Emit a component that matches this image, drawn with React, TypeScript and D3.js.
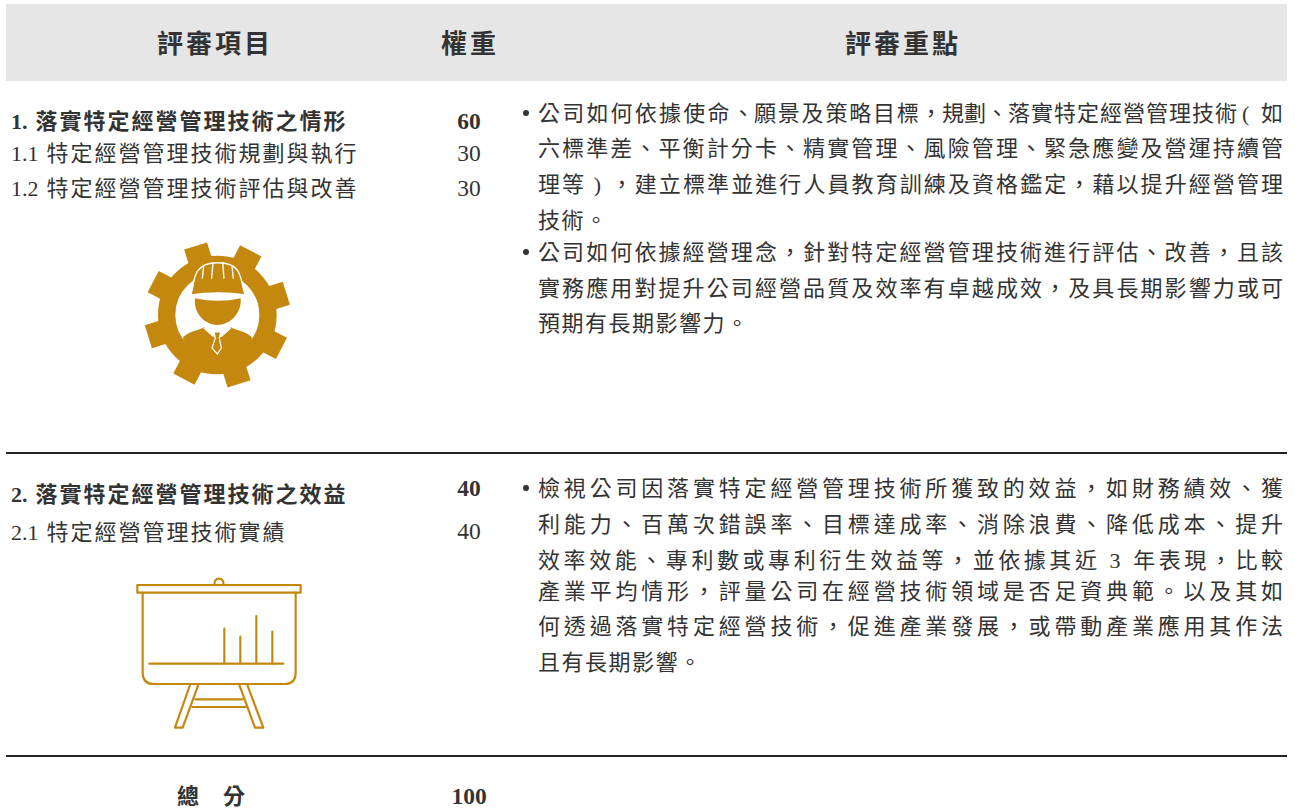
import * as d3 from "d3";

const headers = ["評審項目", "權重", "評審重點"];
const totalLabel = ["總", "分"];
const totalValue = "100";

const section1Items = ["1. 落實特定經營管理技術之情形", "1.1 特定經營管理技術規劃與執行", "1.2 特定經營管理技術評估與改善"];
const section1Weights = [60, 30, 30];
const section2Items = ["2. 落實特定經營管理技術之效益", "2.1 特定經營管理技術實績"];
const section2Weights = [40, 40];

// first line is set tight around its punctuation in the original
const section1FirstLine = ["公司如何依據使命", "、", "願景及策略目標", "，", "規劃", "、", "落實特定經營管理技術", "(", "如"];
const section1Text = [
  "",
  "六標準差、平衡計分卡、精實管理、風險管理、緊急應變及營運持續管",
  "理等 ) ，建立標準並進行人員教育訓練及資格鑑定，藉以提升經營管理",
  "技術。",
  "公司如何依據經營理念，針對特定經營管理技術進行評估、改善，且該",
  "實務應用對提升公司經營品質及效率有卓越成效，及具長期影響力或可",
  "預期有長期影響力。",
];
const section2Text = [
  "檢視公司因落實特定經營管理技術所獲致的效益，如財務績效、獲",
  "利能力、百萬次錯誤率、目標達成率、消除浪費、降低成本、提升",
  "效率效能、專利數或專利衍生效益等，並依據其近 3 年表現，比較",
  "產業平均情形，評量公司在經營技術領域是否足資典範。以及其如",
  "何透過落實特定經營技術，促進產業發展，或帶動產業應用其作法",
  "且有長期影響。",
];
const easelBars = [105, 81, 143, 96];

const GOLD = "#c4880f";
const TEXT = "#333333";
const FONT = '"Liberation Serif", "Noto Sans CJK TC", serif';
const CJK = '"Noto Sans CJK TC", sans-serif';

const WIDTH = 1295;
const HEIGHT = 810;
const TEXT_LEFT = 538;
const TEXT_RIGHT = 1283;

const s1Lines = [113, 148, 184, 220, 252, 288, 323];
const s2Lines = [488, 524, 560, 591, 626, 662];
const s1ItemY = [121, 153, 188];
const s1WeightY = [121, 153, 188];
const s2ItemY = [494, 532];
const s2WeightY = [488, 531];
const firstLineX = [538, 732, 754, 920, 942, 986, 1008, 1242, 1261];
const firstLineSpacing = [2.2, 0, 1.8, 0, 0, 0, 1, 0, 0];

function Paragraphs(props: { lines: string[]; ys: number[]; bullets: number[] }) {
  return (
    <g fill={TEXT} fontFamily={FONT} fontSize={22}>
      {props.lines.map((line, i) => {
        const full = i < props.lines.length - 1 && line.length > 20;
        return (
          <text
            key={i}
            x={TEXT_LEFT}
            y={props.ys[i]}
            dominantBaseline="central"
            textLength={full ? TEXT_RIGHT - TEXT_LEFT : undefined}
            lengthAdjust="spacing"
            letterSpacing={full ? undefined : 1.5}
          >
            {line}
          </text>
        );
      })}
      {props.bullets.map((b) => (
        <circle key={b} cx={526} cy={props.ys[b]} r={3} fill={TEXT} />
      ))}
    </g>
  );
}

// number prefix stays tight, the Chinese part is tracked out
function ItemLabel(props: { text: string; y: number; bold: boolean }) {
  const cut = props.text.indexOf(" ");
  return (
    <text x={11} y={props.y} dominantBaseline="central" fontWeight={props.bold ? 700 : 400}>
      <tspan letterSpacing={0}>{props.text.slice(0, cut + 1)}</tspan>
      <tspan dx={2.5} letterSpacing={2}>{props.text.slice(cut + 1)}</tspan>
    </text>
  );
}

function GearIcon() {
  const cx = 262;
  const cy = 255;
  const teeth = d3.range(8).map((i) => -17.5 + i * 45);
  return (
    <g transform="translate(130,230) scale(0.3333)" fill={GOLD}>
      {teeth.map((a) => (
        <rect key={a} x={cx - 36} y={cy - 217} width={72} height={70} transform={`rotate(${a} ${cx} ${cy})`} />
      ))}
      <circle cx={cx} cy={cy} r={152} fill="none" stroke={GOLD} strokeWidth={52} />
      <path d="M158,325C170,305 205,302 222,292L262,330L302,292C320,302 355,305 367,325C340,375 300,392 262,392C220,392 185,375 158,325Z" />
      <path d="M182,195C192,170 188,140 205,120C225,92 300,90 322,120C338,145 335,170 346,195Q265,182 182,195Z" stroke="#fff" strokeWidth={4} />
      {[221, 249, 278, 306].map((x) => (
        <path key={x} d={`M${x},${x === 249 || x === 278 ? 96 : 108}L${x + (x < 262 ? -4 : 4)},146`} stroke="#fff" strokeWidth={4} fill="none" />
      ))}
      <path d="M195,205Q265,220 332,205C336,250 300,285 262,285C225,285 190,250 195,205Z" />
      <path d="M252,306L272,306L268,324L274,354L262,372L246,354L256,324Z" fill={GOLD} stroke="#fff" strokeWidth={3.5} />
      <path d="M222,294L250,320M302,294L274,320" stroke="#fff" strokeWidth={3.5} />
    </g>
  );
}

function EaselIcon() {
  const baseY = 281;
  const barX = d3.scalePoint<number>().domain(d3.range(easelBars.length)).range([313, 457]);
  return (
    <g transform="translate(120,570) scale(0.3333)" fill="none" stroke={GOLD} strokeWidth={6.5} strokeLinecap="round" strokeLinejoin="round">
      <path d="M284,43A13.5,13.5 0 1 1 310,43" />
      <rect x={52} y={45} width={490} height={23} />
      <path d="M68,68V308Q68,342 102,342H494Q527,342 527,308V68" />
      <path d={`M88,${baseY}H490`} />
      {easelBars.map((h, i) => (
        <path key={i} d={`M${barX(i)},${baseY}V${baseY - h}`} />
      ))}
      <path d="M210,345L165,473H188L235,345" />
      <path d="M358,345L405,473H430L382,345" />
      <path d="M226,388H368M217,411H378" />
    </g>
  );
}

export default function App() {
  return (
    <svg
      width={WIDTH}
      height={HEIGHT}
      viewBox={`0 0 ${WIDTH} ${HEIGHT}`}
      lang="zh-TW"
      style={{ position: "absolute", left: 0, top: 0, background: "#fff" }}
    >
      <rect x={6} y={4} width={1281} height={77} fill="#e6e6e6" />
      <g fontFamily={CJK} fontSize={26} fontWeight={700} fill={TEXT} textAnchor="middle" letterSpacing={3}>
        <text x={215} y={41} dominantBaseline="central">{headers[0]}</text>
        <text x={470} y={41} dominantBaseline="central">{headers[1]}</text>
        <text x={903} y={41} dominantBaseline="central">{headers[2]}</text>
      </g>

      <g fontFamily={FONT} fontSize={22} fill={TEXT}>
        {section1Items.map((t, i) => (
          <ItemLabel key={t} text={t} y={s1ItemY[i]} bold={i === 0} />
        ))}
        {section2Items.map((t, i) => (
          <ItemLabel key={t} text={t} y={s2ItemY[i]} bold={i === 0} />
        ))}
      </g>
      <g fontFamily={FONT} fontSize={23.5} fill={TEXT} textAnchor="middle">
        {section1Weights.map((w, i) => (
          <text key={i} x={469} y={s1WeightY[i]} dominantBaseline="central" fontWeight={i === 0 ? 700 : 400}>{w}</text>
        ))}
        {section2Weights.map((w, i) => (
          <text key={i} x={469} y={s2WeightY[i]} dominantBaseline="central" fontWeight={i === 0 ? 700 : 400}>{w}</text>
        ))}
        <text x={469} y={796} dominantBaseline="central" fontWeight={700}>{totalValue}</text>
      </g>
      <g fontFamily={FONT} fontSize={22} fontWeight={700} fill={TEXT} textAnchor="middle">
        <text x={188} y={796} dominantBaseline="central">{totalLabel[0]}</text>
        <text x={234} y={796} dominantBaseline="central">{totalLabel[1]}</text>
      </g>

      <text y={s1Lines[0]} dominantBaseline="central" fill={TEXT} fontFamily={FONT} fontSize={22}>
        {section1FirstLine.map((seg, i) => (
          <tspan key={i} x={firstLineX[i]} letterSpacing={firstLineSpacing[i]}>{seg}</tspan>
        ))}
      </text>
      <Paragraphs lines={section1Text} ys={s1Lines} bullets={[0, 4]} />
      <Paragraphs lines={section2Text} ys={s2Lines} bullets={[0]} />

      <GearIcon />
      <EaselIcon />

      <line x1={6} x2={1287} y1={453} y2={453} stroke="#222" strokeWidth={2} />
      <line x1={6} x2={1287} y1={756} y2={756} stroke="#222" strokeWidth={2} />
    </svg>
  );
}
